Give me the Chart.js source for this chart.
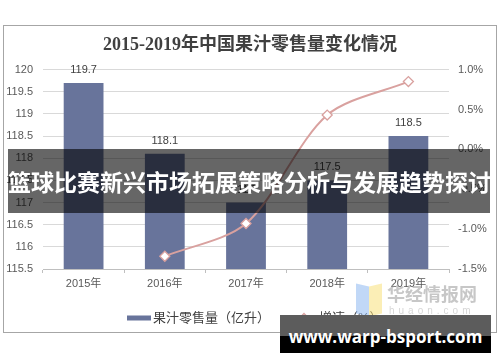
<!DOCTYPE html>
<html>
<head>
<meta charset="utf-8">
<script src="https://cdn.jsdelivr.net/npm/chart.js@4.4.1/dist/chart.umd.min.js"></script>
<style>
body { margin: 0; background: #fff; }
#wrap { position: relative; width: 500px; height: 362px; overflow: hidden; }
#banner {
  position: absolute; left: 8px; top: 149px; width: 482px; height: 64px;
  background: rgba(0,0,0,0.6); color: #fff;
  font: bold 23px "Noto Sans CJK SC", sans-serif;
  line-height: 64px; text-align: center; white-space: nowrap;
}
#mark { position: absolute; left: 356px; top: 283px; width: 130px; height: 40px; opacity: 0.55; }
#mark .b { position: absolute; left: 0; top: 2px; width: 13px; height: 30px; background: #8fb8f0; transform: skewY(12deg); }
#mark .y { position: absolute; left: 13px; top: 2px; width: 13px; height: 30px; background: #f7e07a; transform: skewY(-12deg); }
#mark .t { position: absolute; left: 31px; top: 0; font: bold 18px "Noto Sans CJK SC", sans-serif; color: #9a9a9a; line-height: 20px; }
#mark .u { position: absolute; left: 33px; top: 22px; font: 10px "Liberation Sans", sans-serif; color: #b5b5b5; letter-spacing: 4px; }
#site {
  position: absolute; left: 280px; top: 315px; width: 211px; height: 38px;
  background: linear-gradient(#5c5c5c 0, #5c5c5c 21px, #000 21px, #000 100%);
  color: #fff; font: bold 17px "Open Sans", sans-serif; line-height: 44px;
  text-align: center; white-space: nowrap;
}
</style>
</head>
<body>
<div id="wrap">
  <canvas id="chart" width="500" height="362"></canvas>
  <div id="mark"><div class="b"></div><div class="y"></div><div class="t">华经情报网</div><div class="u">huaon.com</div></div>
  <div id="banner">篮球比赛新兴市场拓展策略分析与发展趋势探讨</div>
  <div id="site">www.warp-bsport.com</div>
</div>
<script>
const years = ["2015年", "2016年", "2017年", "2018年", "2019年"];
const sales = [119.7, 118.1, 117.0, 117.5, 118.5];
const salesLabels = ["119.7", "118.1", "117", "117.5", "118.5"];
const growth = [null, -1.34, -0.93, 0.43, 0.85];

const barColor = "#68749b";
const lineColor = "#d9a19f";
const fontSans = "'Liberation Sans', 'Noto Sans CJK SC', sans-serif";

const chartEl = document.getElementById("chart");

// etiquetas de las barras, leyenda y marco
const extras = {
  id: "extras",
  afterDatasetsDraw(chart) {
    const ctx = chart.ctx;
    const meta = chart.getDatasetMeta(1);
    ctx.save();
    ctx.font = "11px " + fontSans;
    ctx.fillStyle = "#404040";
    ctx.textAlign = "center";
    ctx.textBaseline = "middle";
    meta.data.forEach((bar, i) => {
      ctx.fillText(salesLabels[i], bar.x, bar.y - 13);
    });
    ctx.restore();
  },
  afterDraw(chart) {
    const ctx = chart.ctx;
    ctx.save();
    // marco
    ctx.strokeStyle = "#a6a6a6";
    ctx.lineWidth = 1;
    ctx.strokeRect(3.5, 25.5, 493, 307);
    // leyenda
    const ly = 318;
    ctx.fillStyle = barColor;
    ctx.fillRect(127, ly - 2.5, 24, 5);
    ctx.font = "13px " + fontSans;
    ctx.fillStyle = "#404040";
    ctx.textBaseline = "middle";
    ctx.fillText("果汁零售量（亿升）", 153, ly);
    ctx.strokeStyle = lineColor;
    ctx.lineWidth = 2;
    ctx.beginPath();
    ctx.moveTo(290, ly);
    ctx.lineTo(318, ly);
    ctx.stroke();
    ctx.fillStyle = "#fff";
    ctx.lineWidth = 1.3;
    ctx.beginPath();
    ctx.moveTo(304, ly - 4.5);
    ctx.lineTo(308.5, ly);
    ctx.lineTo(304, ly + 4.5);
    ctx.lineTo(299.5, ly);
    ctx.closePath();
    ctx.fill();
    ctx.stroke();
    ctx.fillStyle = "#404040";
    ctx.fillText("增速（%）", 319, ly);
    ctx.restore();
  }
};

const config = {
  data: {
    labels: years,
    datasets: [
      {
        type: "line",
        label: "增速（%）",
        data: growth,
        yAxisID: "yr",
        borderColor: lineColor,
        borderWidth: 2,
        tension: 0.3,
        pointStyle: "rectRot",
        pointRadius: 5,
        pointBackgroundColor: "#fff",
        pointBorderColor: lineColor,
        pointBorderWidth: 1.3,
        order: 0
      },
      {
        type: "bar",
        label: "果汁零售量（亿升）",
        data: sales,
        yAxisID: "y",
        backgroundColor: barColor,
        barPercentage: 0.49,
        categoryPercentage: 1,
        order: 1
      }
    ]
  },
  options: {
    responsive: false,
    animation: false,
    layout: { padding: { top: 25, left: 4, right: 4, bottom: 63 } },
    plugins: {
      legend: { display: false },
      tooltip: { enabled: false },
      title: {
        display: true,
        text: "2015-2019年中国果汁零售量变化情况",
        color: "#404040",
        font: { family: "'Liberation Serif', 'Noto Sans CJK SC', serif", size: 18, weight: "bold", lineHeight: 1.2 },
        padding: { top: 10, bottom: 13 }
      }
    },
    scales: {
      x: {
        grid: { drawOnChartArea: false, drawTicks: true, tickLength: 4, color: "#bfbfbf" },
        border: { display: true, color: "#bfbfbf" },
        ticks: { color: "#595959", font: { family: fontSans, size: 11 }, padding: 4 },
        afterFit: (s) => { s.height = 30; }
      },
      y: {
        position: "left",
        min: 115.5,
        max: 120,
        grid: { color: "#d9d9d9", drawTicks: false },
        border: { display: false },
        ticks: {
          stepSize: 0.5,
          color: "#595959",
          font: { family: fontSans, size: 11 },
          padding: 10,
          callback: (v) => String(Math.round(v * 10) / 10)
        },
        afterFit: (s) => { s.width = 39; }
      },
      yr: {
        position: "right",
        min: -1.5,
        max: 1.0,
        grid: { drawOnChartArea: false, drawTicks: false },
        border: { display: false },
        ticks: {
          stepSize: 0.5,
          color: "#595959",
          font: { family: fontSans, size: 11 },
          padding: 9,
          callback: (v) => v.toFixed(1) + "%"
        },
        afterFit: (s) => { s.width = 47; }
      }
    }
  },
  plugins: [extras]
};

new Chart(chartEl, config);
</script>
</body>
</html>
